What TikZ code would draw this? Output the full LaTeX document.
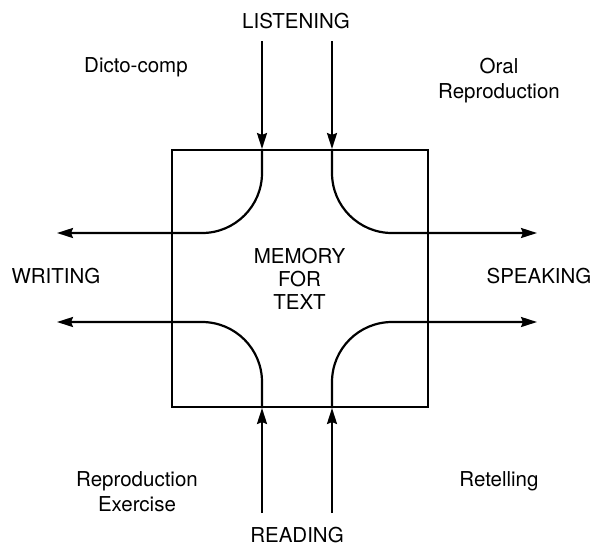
\documentclass[tikz,border=0pt]{standalone}
\usepackage{fontspec}
\setmainfont{TeX Gyre Heros}
\usetikzlibrary{arrows.meta}

\begin{document}
\begin{tikzpicture}[x=1pt, y=-1pt,
        memory/.style={rectangle, draw, line width=2pt, minimum width=256pt, minimum height=257pt, inner sep=0pt, align=center, font=\fontsize{20.5}{23}\selectfont},
        skill/.style={inner sep=0pt, align=center, font=\fontsize{20.5}{25}\selectfont},
        task/.style={inner sep=0pt, align=center, font=\fontsize{20.5}{25}\selectfont},
        arrow/.style={line width=2.2pt, -{Stealth[length=16pt, width=10pt, inset=2pt]}},
        flow/.style={arrow, rounded corners=60pt}
    ]
        \useasboundingbox (0,0) rectangle (596,547);

        % Box
        \node[memory] (mem) at (299.5,278.5) {MEMORY\\FOR\\TEXT};

        % Skills
        \node[skill] (listen) at (296,21) {LISTENING};
        \node[skill] (read) at (297,535) {READING};
        \node[skill] (write) at (56,276) {WRITING};
        \node[skill] (speak) at (539,276) {SPEAKING};

        % Tasks
        \node[task] (dicto) at (136,67) {Dicto-comp};
        \node[task] (oral) at (499,80.5) {Oral\\Reproduction};
        \node[task] (exercise) at (137,491.5) {Reproduction\\Exercise};
        \node[task] (retell) at (499,481) {Retelling};

        % Ends
        \coordinate (lin1) at (262,41);
        \coordinate (lin2) at (332,41);
        \coordinate (rin1) at (262,513);
        \coordinate (rin2) at (332,513);
        \coordinate (wout1) at (57,233);
        \coordinate (wout2) at (57,322);
        \coordinate (sout1) at (537,233);
        \coordinate (sout2) at (537,322);

        % Arrows in
        \draw[arrow] (lin1) -- (lin1 |- mem.north);
        \draw[arrow] (lin2) -- (lin2 |- mem.north);
        \draw[arrow] (rin1) -- (rin1 |- mem.south);
        \draw[arrow] (rin2) -- (rin2 |- mem.south);

        % Arrows out
        \draw[flow] (lin1 |- mem.north) |- (wout1);
        \draw[flow] (lin2 |- mem.north) |- (sout1);
        \draw[flow] (rin1 |- mem.south) |- (wout2);
        \draw[flow] (rin2 |- mem.south) |- (sout2);
    \end{tikzpicture}
\end{document}
